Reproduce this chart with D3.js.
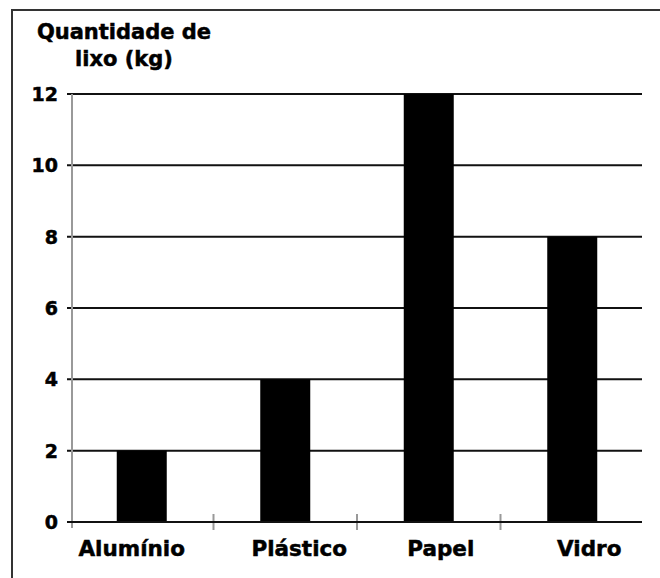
<!DOCTYPE html>
<html>
<head>
<meta charset="utf-8">
<script src="https://cdn.jsdelivr.net/npm/d3@7"></script>
<style>
html,body{margin:0;padding:0;background:#fff;}
svg{display:block;}
text{font-family:"DejaVu Sans",sans-serif;font-weight:bold;fill:#000;stroke:#000;stroke-width:0.5px;}
</style>
</head>
<body>
<svg id="chart" width="660" height="578"></svg>
<script>
const categories = ["Alumínio", "Plástico", "Papel", "Vidro"];
const values = [2, 4, 12, 8];
const yTicks = [0, 2, 4, 6, 8, 10, 12];
const titleLines = ["Quantidade de", "lixo (kg)"];

// layout constants
const labelDx = [-10, 14, 12, 17];

const svg = d3.select("#chart");

// frame
svg.append("line").attr("x1", 12).attr("x2", 12).attr("y1", 10).attr("y2", 578)
  .attr("stroke", "#333").attr("stroke-width", 2);
svg.append("line").attr("x1", 11).attr("x2", 660).attr("y1", 10).attr("y2", 10)
  .attr("stroke", "#333").attr("stroke-width", 2);

const x = d3.scaleBand().domain(categories).range([70, 644]).padding(0);
const y = d3.scaleLinear().domain([0, 12]).range([522, 94]);

// gridlines
svg.append("g").selectAll("line").data(yTicks).join("line")
  .attr("x1", 67).attr("x2", 642)
  .attr("y1", d => y(d)).attr("y2", d => y(d))
  .attr("stroke", "#111").attr("stroke-width", 2);

// y axis line (gray)
svg.append("line").attr("x1", 72).attr("x2", 72).attr("y1", y(12)).attr("y2", 528)
  .attr("stroke", "#999").attr("stroke-width", 2);

// x ticks between categories
const xTickPos = categories.slice(1).map(c => x(c));
svg.append("g").selectAll("line").data(xTickPos).join("line")
  .attr("x1", d => d).attr("x2", d => d).attr("y1", 514).attr("y2", 530)
  .attr("stroke", "#999").attr("stroke-width", 2);

// bars
const barW = 50;
svg.append("g").selectAll("rect").data(values).join("rect")
  .attr("x", (d, i) => x(categories[i]) + x.bandwidth() / 2 - barW / 2)
  .attr("width", barW)
  .attr("y", d => y(d))
  .attr("height", d => y(0) - y(d))
  .attr("fill", "#000");

// zero baseline on top
svg.append("line").attr("x1", 67).attr("x2", 642).attr("y1", y(0)).attr("y2", y(0))
  .attr("stroke", "#111").attr("stroke-width", 2);

// y labels
svg.append("g").selectAll("text").data(yTicks).join("text")
  .attr("x", 58).attr("y", d => y(d)).attr("dy", "0.36em")
  .attr("text-anchor", "end").attr("font-size", 19)
  .text(d => d);

// category labels
svg.append("g").selectAll("text").data(categories).join("text")
  .attr("x", (d, i) => x(d) + x.bandwidth() / 2 + labelDx[i])
  .attr("y", 556)
  .attr("text-anchor", "middle").attr("font-size", 21.5)
  .text(d => d);

// title
svg.append("g").selectAll("text").data(titleLines).join("text")
  .attr("x", 124).attr("y", (d, i) => 39 + i * 27)
  .attr("text-anchor", "middle").attr("font-size", 21)
  .text(d => d);
</script>
</body>
</html>
